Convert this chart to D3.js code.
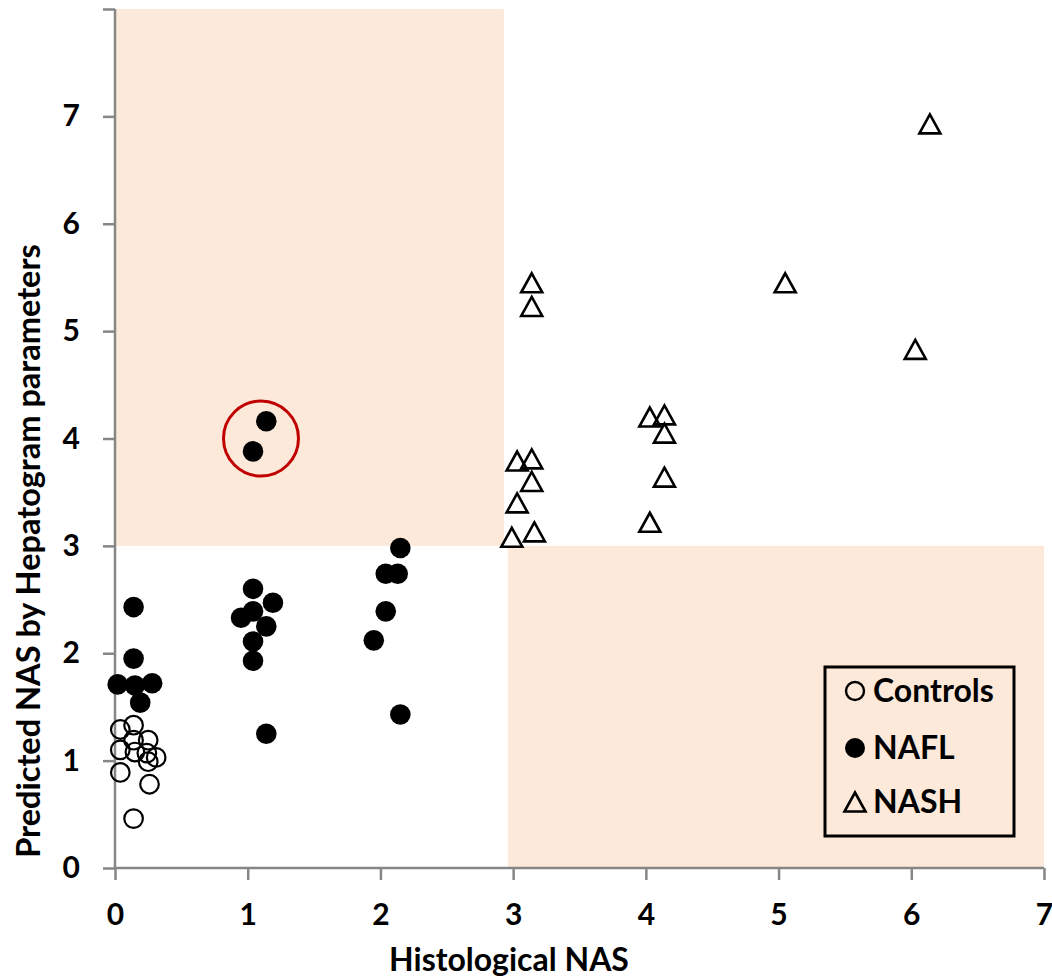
<!DOCTYPE html>
<html>
<head>
	<meta charset="utf-8">
	<script src="https://d3js.org/d3.v7.min.js"></script>
	<title>Predicted vs histological NAS</title>
	<style>
		body { margin: 0; background: #fff; }
		text { font-family: Lato, "Noto Sans", sans-serif; font-weight: bold; fill: #000; }
	</style>
</head>
<body>
	<div id="chart"></div>

	<script type="text/javascript">

		// values
		var controlsX = [0.04, 0.14, 0.14, 0.25, 0.04, 0.15, 0.24, 0.31, 0.25, 0.04, 0.26, 0.14];
		var controlsY = [1.29, 1.33, 1.19, 1.19, 1.10, 1.08, 1.07, 1.03, 0.99, 0.89, 0.78, 0.46];

		var naflX = [0.02, 0.15, 0.28, 0.19, 0.14, 0.14,
		             1.04, 1.19, 1.04, 0.95, 1.14, 1.04, 1.04, 1.14, 1.14, 1.04,
		             2.15, 2.04, 2.13, 2.04, 1.95, 2.15];
		var naflY = [1.71, 1.70, 1.72, 1.54, 1.95, 2.43,
		             2.60, 2.47, 2.39, 2.33, 2.25, 2.11, 1.93, 1.25, 4.16, 3.88,
		             2.98, 2.74, 2.74, 2.39, 2.12, 1.43];

		var nashX = [3.14, 3.14, 3.03, 3.14, 3.14, 3.03, 2.99, 3.16,
		             4.03, 4.14, 4.14, 4.14, 4.03,
		             6.14, 5.05, 6.03];
		var nashY = [5.45, 5.23, 3.79, 3.81, 3.60, 3.40, 3.08, 3.13,
		             4.20, 4.22, 4.05, 3.64, 3.22,
		             6.93, 5.45, 4.83];

		var xTicks = [0, 1, 2, 3, 4, 5, 6, 7];
		var yTicks = [0, 1, 2, 3, 4, 5, 6, 7, 8];

		// shaded areas (misclassified zones)
		var zoneX0 = [0, 2.96];
		var zoneX1 = [2.93, 7];
		var zoneY0 = [3, 0];
		var zoneY1 = [8, 3];

		// circled outliers
		var ringX = 1.10, ringY = 4.00;

		var legendNames = ["Controls", "NAFL", "NASH"];

		var svgwidth = 1052;
		var svgheight = 980;

		var svg = d3.select("#chart").append("svg")
			.attr("width", svgwidth)
			.attr("height", svgheight);

		var xScale = d3.scaleLinear()
			.domain([0, 7])
			.range([115, 1044]);
		var yScale = d3.scaleLinear()
			.domain([0, 8])
			.range([868, 9]);

		// shaded zones
		svg.selectAll("rect.zone")
			.data(d3.range(zoneX0.length)).enter().append("rect")
			.attr("class", "zone")
			.attr("x", function(i){ return xScale(zoneX0[i]); })
			.attr("y", function(i){ return yScale(zoneY1[i]); })
			.attr("width", function(i){ return xScale(zoneX1[i]) - xScale(zoneX0[i]); })
			.attr("height", function(i){ return yScale(zoneY0[i]) - yScale(zoneY1[i]); })
			.attr("fill", "#fde9d9");

		// axes
		var xAxis = d3.axisBottom(xScale).tickValues(xTicks).tickSize(12).tickPadding(22)
			.tickFormat(d3.format("d"));
		var yAxis = d3.axisLeft(yScale).tickValues(yTicks).tickSize(12).tickPadding(22)
			.tickFormat(function(d){ return d == 8 ? "" : d; });

		var gx = svg.append("g").attr("transform", "translate(0," + yScale(0) + ")").call(xAxis);
		var gy = svg.append("g").attr("transform", "translate(" + xScale(0) + ",0)").call(yAxis);

		[gx, gy].forEach(function(g){
			g.select(".domain").attr("stroke", "#868686").attr("stroke-width", 2.5);
			g.selectAll(".tick line").attr("stroke", "#868686").attr("stroke-width", 2.5);
			g.selectAll(".tick text").attr("font-size", 30)
				.attr("font-family", "Lato, sans-serif").attr("font-weight", "bold").attr("fill", "#000");
		});
		gx.select(".domain").attr("d", "M" + xScale(0) + ",0H" + xScale(7));
		gy.select(".domain").attr("d", "M0," + yScale(8) + "V" + yScale(0));
		gy.selectAll(".tick text").attr("x", -35);
		gx.selectAll(".tick text").attr("y", 36);

		// axis titles
		svg.append("text")
			.attr("x", 509).attr("y", 971)
			.attr("text-anchor", "middle")
			.attr("font-size", 32)
			.text("Histological NAS");

		svg.append("text")
			.attr("transform", "translate(40,551) rotate(-90)")
			.attr("text-anchor", "middle")
			.attr("font-size", 32.5)
			.text("Predicted NAS by Hepatogram parameters");

		// markers
		var tri = "M0,-9.5L10.5,9.5L-10.5,9.5Z";

		svg.selectAll("circle.ctrl")
			.data(controlsX).enter().append("circle")
			.attr("class", "ctrl")
			.attr("cx", function(d){ return xScale(d); })
			.attr("cy", function(d, i){ return yScale(controlsY[i]); })
			.attr("r", 9.3)
			.attr("fill", "none")
			.attr("stroke", "#000")
			.attr("stroke-width", 2.2);

		svg.selectAll("circle.nafl")
			.data(naflX).enter().append("circle")
			.attr("class", "nafl")
			.attr("cx", function(d){ return xScale(d); })
			.attr("cy", function(d, i){ return yScale(naflY[i]); })
			.attr("r", 10.3)
			.attr("fill", "#000");

		svg.selectAll("path.nash")
			.data(nashX).enter().append("path")
			.attr("class", "nash")
			.attr("transform", function(d, i){ return "translate(" + xScale(d) + "," + yScale(nashY[i]) + ")"; })
			.attr("d", tri)
			.attr("fill", "none")
			.attr("stroke", "#000")
			.attr("stroke-width", 2.6)
			.attr("stroke-linejoin", "miter");

		// red ring round the two NAFL outliers
		svg.append("circle")
			.attr("cx", xScale(ringX))
			.attr("cy", yScale(ringY))
			.attr("r", 37.5)
			.attr("fill", "none")
			.attr("stroke", "#c00000")
			.attr("stroke-width", 3);

		// legend
		var legend = svg.append("g");
		legend.append("rect")
			.attr("x", 825).attr("y", 667)
			.attr("width", 189).attr("height", 169)
			.attr("fill", "none")
			.attr("stroke", "#000")
			.attr("stroke-width", 3);

		var rowY = [691, 748, 802];
		legend.append("circle").attr("cx", 855).attr("cy", rowY[0]).attr("r", 9)
			.attr("fill", "none").attr("stroke", "#000").attr("stroke-width", 2.4);
		legend.append("circle").attr("cx", 855).attr("cy", rowY[1]).attr("r", 10).attr("fill", "#000");
		legend.append("path").attr("transform", "translate(855," + rowY[2] + ")").attr("d", tri)
			.attr("fill", "none").attr("stroke", "#000").attr("stroke-width", 2.6);

		legend.selectAll("text")
			.data(legendNames).enter().append("text")
			.attr("x", 873)
			.attr("y", function(d, i){ return rowY[i] + 11; })
			.attr("font-size", 32)
			.text(function(d){ return d; });

	</script>

</body>
</html>
